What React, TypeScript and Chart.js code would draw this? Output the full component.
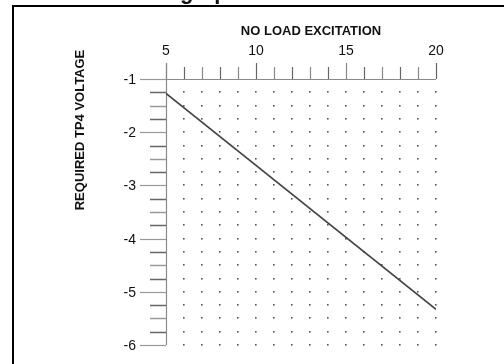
import React, { useEffect, useRef } from "react";
import { Chart, registerables } from "chart.js";

Chart.register(...registerables);

// Data
const excitation = [5, 20];
const requiredVoltage = [-1.27, -5.33];
const xTickLabels = [5, 10, 15, 20];
const yTickLabels = [-1, -2, -3, -4, -5, -6];
const xTitle = "NO LOAD EXCITATION";
const yTitle = "REQUIRED TP4 VOLTAGE";
const headerFragment = "graph";

const FONT = "'Liberation Sans', Arial, sans-serif";

const decorPlugin = {
  id: "decor",
  beforeDatasetsDraw(chart: any) {
    const { ctx, scales } = chart;
    const xs = scales.x;
    const ys = scales.y;
    const x0 = xs.getPixelForValue(5);
    const x1 = xs.getPixelForValue(20);
    const yTop = ys.getPixelForValue(-1);
    const yBot = ys.getPixelForValue(-6);
    ctx.save();
    // dot grid
    ctx.fillStyle = "#555";
    for (let xv = 6; xv <= 20; xv += 1) {
      for (let k = 1; k <= 20; k++) {
        const yv = -1 - k * 0.25;
        const px = Math.round(xs.getPixelForValue(xv));
        const py = Math.round(ys.getPixelForValue(yv));
        ctx.fillRect(px - 1, py - 1, 1.6, 1.6);
      }
    }
    // axes lines
    ctx.strokeStyle = "#8a8a8a";
    ctx.lineWidth = 1.2;
    ctx.beginPath();
    ctx.moveTo(140, Math.round(yTop) + 0.5);
    ctx.lineTo(x1, Math.round(yTop) + 0.5);
    ctx.moveTo(Math.round(x0) + 0.5, yTop - 16);
    ctx.lineTo(Math.round(x0) + 0.5, yBot);
    ctx.stroke();
    // x ticks (top)
    for (let xv = 5; xv <= 20; xv += 1) {
      const px = Math.round(xs.getPixelForValue(xv)) + 0.5;
      const len = xv % 5 === 0 ? 16 : 12;
      ctx.strokeStyle = xv % 2 === 0 ? "#666" : "#888";
      ctx.beginPath();
      ctx.moveTo(px, yTop);
      ctx.lineTo(px, yTop - len);
      ctx.stroke();
    }
    // y ticks
    for (let k = 0; k <= 20; k++) {
      const yv = -1 - k * 0.25;
      const py = Math.round(ys.getPixelForValue(yv)) + 0.5;
      const major = k % 4 === 0;
      ctx.strokeStyle = k % 2 === 1 ? "#666" : "#999";
      ctx.lineWidth = major ? 1.2 : 1.5;
      ctx.beginPath();
      ctx.moveTo(major ? 140 : 150, py);
      ctx.lineTo(x0, py);
      ctx.stroke();
    }
    ctx.restore();
  },
  afterDraw(chart: any) {
    const { ctx, scales } = chart;
    const xs = scales.x;
    const ys = scales.y;
    ctx.save();
    ctx.fillStyle = "#111";
    // x tick labels
    ctx.font = `14px ${FONT}`;
    ctx.textAlign = "center";
    ctx.textBaseline = "alphabetic";
    xTickLabels.forEach((v) => {
      ctx.fillText(String(v), xs.getPixelForValue(v), 55);
    });
    // y tick labels
    ctx.textAlign = "right";
    yTickLabels.forEach((v) => {
      ctx.fillText(String(v), 136, ys.getPixelForValue(v) + 5);
    });
    // titles
    ctx.font = `bold 13px ${FONT}`;
    ctx.textAlign = "center";
    ctx.fillText(xTitle, 311, 35);
    ctx.save();
    ctx.translate(80, 130);
    ctx.rotate(-Math.PI / 2);
    ctx.font = `bold 13px ${FONT}`;
    ctx.textBaseline = "middle";
    ctx.fillText(yTitle, 0, 0);
    ctx.restore();
    // header fragment (cropped)
    ctx.font = `bold 22px ${FONT}`;
    ctx.textAlign = "left";
    ctx.textBaseline = "alphabetic";
    ctx.fillText(headerFragment, 180, -1);
    // frame
    ctx.fillStyle = "#000";
    ctx.fillRect(12, 5, 504 - 12, 2);
    ctx.fillRect(12, 5, 2, 364 - 5);
    ctx.restore();
  },
};

export default function App() {
  const ref = useRef<HTMLCanvasElement>(null);
  useEffect(() => {
    if (!ref.current) return;
    const chart = new Chart(ref.current, {
      type: "line",
      data: {
        datasets: [
          {
            data: excitation.map((x, i) => ({ x, y: requiredVoltage[i] })),
            borderColor: "#444",
            borderWidth: 1.6,
            pointRadius: 0,
            fill: false,
          },
        ],
      },
      options: {
        responsive: false,
        animation: false,
        events: [],
        layout: { padding: { left: 166, top: 79, right: 68, bottom: 19 } },
        plugins: { legend: { display: false }, tooltip: { enabled: false } },
        scales: {
          x: { type: "linear", min: 5, max: 20, display: false },
          y: { type: "linear", min: -6, max: -1, display: false },
        },
      },
      plugins: [decorPlugin],
    });
    return () => chart.destroy();
  }, []);
  return (
    <div style={{ position: "fixed", left: 0, top: 0, width: 504, height: 364, background: "#fff" }}>
      <canvas ref={ref} width={504} height={364} style={{ display: "block", width: 504, height: 364 }} />
    </div>
  );
}
